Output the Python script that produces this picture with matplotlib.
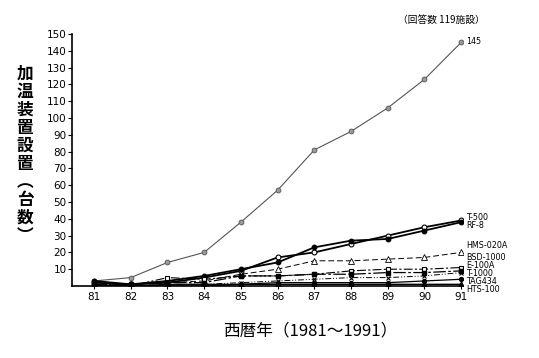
import matplotlib
matplotlib.use("Agg")
import matplotlib.pyplot as plt

plt.rcParams['font.family'] = ['Noto Sans CJK JP', 'DejaVu Sans']

years = [81, 82, 83, 84, 85, 86, 87, 88, 89, 90, 91]

# series values (units: installations)
total = [3, 5, 14, 20, 38, 57, 81, 92, 106, 123, 145]
t500 = [2, 1, 2, 5, 9, 17, 20, 25, 30, 35, 39]
rf8 = [3, 1, 3, 6, 10, 14, 23, 27, 28, 33, 38]
hms020a = [1, 1, 2, 3, 7, 10, 15, 15, 16, 17, 20]
bsd1000 = [1, 0, 5, 4, 6, 6, 7, 9, 10, 10, 11]
e100a = [1, 1, 2, 2, 6, 6, 7, 7, 8, 8, 9]
t1000 = [0, 0, 1, 1, 2, 3, 4, 5, 5, 6, 8]
tag434 = [0, 0, 1, 1, 1, 2, 2, 2, 2, 3, 4]
hts100 = [0, 0, 0, 0, 1, 1, 1, 1, 1, 1, 1]

fig = plt.figure(figsize=(5.39, 3.58), dpi=100)
ax = fig.add_axes([72 / 539, 72 / 358, 391 / 539, 252 / 358])

ax.plot(years, total, color='#555555', lw=0.8, marker='o', ms=3.5,
        mfc='#999999', mec='#555555', mew=0.6)
ax.plot(years, t500, color='black', lw=1.3, marker='o', ms=3.5, mfc='white', mec='black', mew=0.8)
ax.plot(years, rf8, color='black', lw=1.3, marker='o', ms=3.2, mfc='black', mec='black')
ax.plot(years, hms020a, color='black', lw=0.7, ls=(0, (6, 3)), marker='^', ms=4,
        mfc='white', mec='black', mew=0.6)
ax.plot(years, bsd1000, color='black', lw=0.8, ls=(0, (8, 2, 2, 2)), marker='s', ms=3.5,
        mfc='white', mec='black', mew=0.8)
ax.plot(years, e100a, color='black', lw=0.9, ls=(0, (10, 2, 2, 2)), marker='s', ms=3.2,
        mfc='black', mec='black')
ax.plot(years, t1000, color='black', lw=0.7, ls=(0, (6, 2, 1, 2, 1, 2)), marker='x', ms=3.5, mew=0.8)
ax.plot(years, tag434, color='black', lw=0.9, marker='o', ms=2.8, mfc='black', mec='black')
ax.plot(years, hts100, color='black', lw=1.0, marker='^', ms=3.5, mfc='black', mec='black')

ax.set_xlim(80.4, 91.05)
ax.set_ylim(0, 150)
ax.set_xticks(years)
ax.set_xticklabels([str(y) for y in years], fontsize=7.5, family='DejaVu Sans')
ax.set_yticks(range(10, 151, 10))
ax.set_yticklabels([str(v) for v in range(10, 151, 10)], fontsize=7.5, family='DejaVu Sans')
ax.tick_params(axis='y', direction='out', length=3, width=0.8, pad=1)
ax.tick_params(axis='x', direction='out', length=2, width=0.8, pad=2)
for s in ['top', 'right']:
    ax.spines[s].set_visible(False)
ax.spines['left'].set_linewidth(1.2)
ax.spines['bottom'].set_linewidth(1.2)

# end labels (pixel rows)
labels = [(42, '145'), (217, 'T-500'), (225, 'RF-8'), (246, 'HMS-020A'),
          (258, 'BSD-1000'), (266, 'E-100A'), (274, 'T-1000'),
          (282, 'TAG434'), (290, 'HTS-100')]
for ypix, txt in labels:
    fig.text(466 / 539, 1 - ypix / 358, txt, fontsize=5.8,
             family='DejaVu Sans', va='center', ha='left')

fig.text(398 / 539, 1 - 20 / 358, '（回答数 119施設）', fontsize=7, va='center', ha='left')
fig.text(25 / 539, 1 - 155 / 358, '加\n温\n装\n置\n設\n置\n︵\n台\n数\n︶', fontsize=12,
         fontweight='bold', va='center', ha='center', linespacing=1.0)
fig.text(310 / 539, 1 - 331 / 358, '西暦年（1981〜1991）', fontsize=12, va='center', ha='center')

fig.savefig('out.png', dpi=100)
